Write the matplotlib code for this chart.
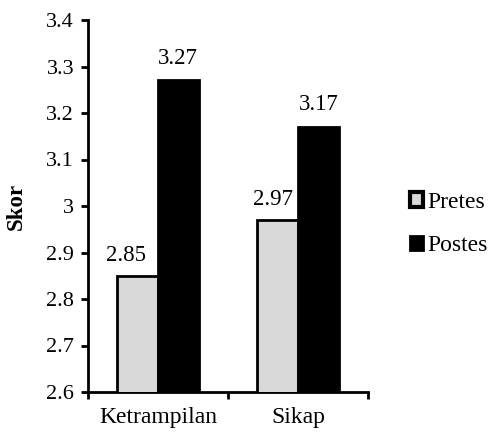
import matplotlib
matplotlib.use("Agg")
import matplotlib.pyplot as plt
import numpy as np

categories = ["Ketrampilan", "Sikap"]
pretes = [2.85, 2.97]
postes = [3.27, 3.17]
yticks = [2.6, 2.7, 2.8, 2.9, 3.0, 3.1, 3.2, 3.3, 3.4]
ytick_labels = ["2.6", "2.7", "2.8", "2.9", "3", "3.1", "3.2", "3.3", "3.4"]

plt.rcParams['font.family'] = ['Liberation Serif', 'DejaVu Serif']
FS = 16.5
fig = plt.figure(figsize=(4.9, 4.33), dpi=100)
ax = fig.add_axes([88/490, 41/433, 280/490, 372/433])

x = np.arange(len(categories))
w = 0.29
b1 = ax.bar(x - w/2, pretes, w, color="#d9d9d9", edgecolor="black", linewidth=2, label="Pretes", zorder=3)
b2 = ax.bar(x + w/2, postes, w, color="black", edgecolor="black", linewidth=2, label="Postes", zorder=3)

# label horizontal nudges (points), as in the reference where pretes labels sit left
pre_dx = [-8.5, -3.5]
post_dx = [0, 0]
for bars, vals, dxs, dy in ((b1, pretes, pre_dx, 7), (b2, postes, post_dx, 8.5)):
    for r, v, dx in zip(bars, vals, dxs):
        ax.annotate(f"{v:.2f}", (r.get_x() + r.get_width()/2, v), xytext=(dx, dy),
                    textcoords="offset points", ha="center", va="bottom", fontsize=FS)

ax.set_ylim(2.6, 3.4)
ax.set_xlim(-0.5, 1.5)
ax.set_yticks(yticks)
ax.set_yticklabels(ytick_labels, fontsize=16)
ax.set_xticks(x)
ax.set_xticklabels(categories, fontsize=17)
ax.set_xticks([-0.5, 0.5, 1.5], minor=True)
ax.tick_params(axis='x', which='major', length=0, pad=11)
ax.tick_params(axis='x', which='minor', length=5, width=2, direction='out')
ax.tick_params(axis='y', length=5, width=2, direction='out', pad=5)
for s in ("top", "right"):
    ax.spines[s].set_visible(False)
for s in ("left", "bottom"):
    ax.spines[s].set_linewidth(2)
ax.set_ylabel("Skor", fontsize=FS, fontweight="bold", labelpad=14)

leg = fig.legend(handles=[b1, b2], labels=["Pretes", "Postes"], loc="center left",
           bbox_to_anchor=(410/490, 1 - 224/433), frameon=False, fontsize=17,
           handlelength=0.55, handleheight=0.55, handletextpad=0.2, labelspacing=0.95,
           borderaxespad=0, borderpad=0)
leg.legend_handles[0].set_linewidth(3)

fig.savefig("out.png", dpi=100)
